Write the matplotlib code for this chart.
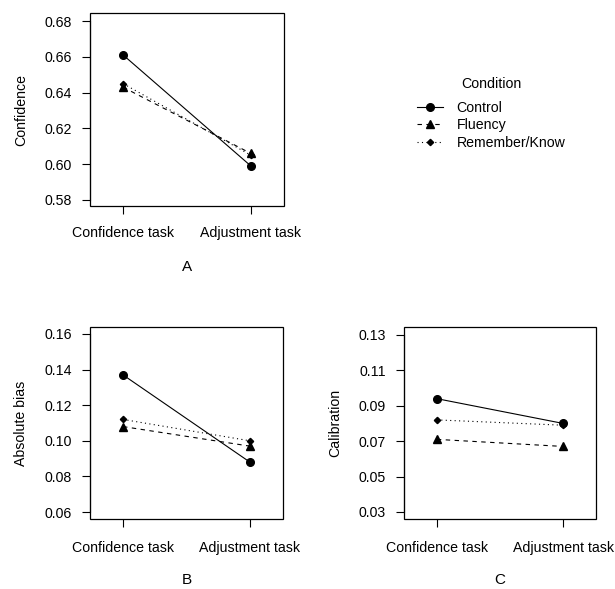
import matplotlib
matplotlib.use("Agg")
import matplotlib.pyplot as plt
from matplotlib.patches import Rectangle

plt.rcParams['font.family'] = ['Liberation Sans', 'DejaVu Sans']

tasks = ["Confidence task", "Adjustment task"]
conditions = ["Control", "Fluency", "Remember/Know"]

confidence = {
    "Control": [0.661, 0.599],
    "Fluency": [0.643, 0.606],
    "Remember/Know": [0.645, 0.605],
}
absolute_bias = {
    "Control": [0.137, 0.088],
    "Fluency": [0.108, 0.097],
    "Remember/Know": [0.112, 0.100],
}
calibration = {
    "Control": [0.094, 0.080],
    "Fluency": [0.071, 0.067],
    "Remember/Know": [0.082, 0.079],
}

conf_ticks = [0.58, 0.60, 0.62, 0.64, 0.66, 0.68]
bias_ticks = [0.06, 0.08, 0.10, 0.12, 0.14, 0.16]
cal_ticks = [0.03, 0.05, 0.07, 0.09, 0.11, 0.13]

styles = {
    "Control": dict(linestyle='-', marker='o', markersize=5.5),
    "Fluency": dict(linestyle=(0, (4, 4)), marker='^', markersize=5.5),
    "Remember/Know": dict(linestyle=(0, (1, 3)), marker='D', markersize=3.2),
}

W, H = 615, 589
fig = plt.figure(figsize=(W / 100, H / 100), dpi=100)
FS = 10.2


def px_axes(left, top, right, bottom):
    return fig.add_axes([left / W, (H - bottom) / H, (right - left) / W, (bottom - top) / H])


def panel(ax, data, ticks, ylim, fmt, xpad):
    xs = [1, 2]
    for c in conditions:
        st = styles[c]
        ax.plot(xs, data[c], color='black', linewidth=0.8,
                linestyle=st['linestyle'], marker=st['marker'],
                markersize=st['markersize'], markerfacecolor='black',
                markeredgecolor='black', label=c, clip_on=False)
    ax.set_xlim(0.74, 2.26)
    ax.set_ylim(*ylim)
    ax.set_xticks(xs)
    ax.set_xticklabels(tasks, fontsize=FS)
    ax.set_yticks(ticks)
    ax.set_yticklabels([fmt.format(t) for t in ticks], fontsize=FS)
    for s in ['top', 'right', 'bottom']:
        ax.spines[s].set_visible(False)
    ax.spines['left'].set_bounds(ticks[0], ticks[-1])
    ax.spines['left'].set_linewidth(0.8)
    ax.add_patch(Rectangle((0, 0), 1, 1, transform=ax.transAxes, fill=False,
                           edgecolor='black', linewidth=0.9, clip_on=False))
    ax.tick_params(axis='y', length=6, width=0.8, pad=7, colors='black')
    ax.tick_params(axis='x', length=6, width=0.8, pad=xpad, colors='black')


axA = px_axes(90, 13, 284, 206)
panel(axA, confidence, conf_ticks, (0.5766, 0.6845), "{:.2f}", 8.7)
axB = px_axes(90, 327, 283, 519)
panel(axB, absolute_bias, bias_ticks, (0.0561, 0.1639), "{:.2f}", 10.0)
axC = px_axes(404, 327, 596, 519)
panel(axC, calibration, cal_ticks, (0.026, 0.1345), "{:.2f}", 10.0)


def ftext(x, y, s, size=FS, **kw):
    fig.text(x / W, 1 - y / H, s, fontsize=size, ha='center', va='center', **kw)


ftext(21, 110, "Confidence", rotation=90)
ftext(21, 423, "Absolute bias", rotation=90)
ftext(335, 423, "Calibration", rotation=90)
ftext(187, 267, "A", size=11)
ftext(187, 580, "B", size=11)
ftext(500, 580, "C", size=11)

handles, labels = axA.get_legend_handles_labels()
leg = fig.legend(handles, labels, title="Condition", loc='upper left',
                 bbox_to_anchor=(417 / W, 1 - 77 / H), frameon=False,
                 fontsize=FS, title_fontsize=FS, handlelength=1.8,
                 handletextpad=1.0, labelspacing=0.25, numpoints=1,
                 borderaxespad=0, borderpad=0)
try:
    leg._legend_box.sep = 7.0
except Exception:
    pass

fig.savefig("out.png", dpi=100)
